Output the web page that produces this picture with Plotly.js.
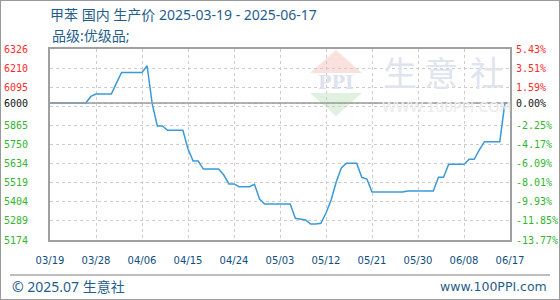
<!DOCTYPE html>
<html>
<head>
<meta charset="utf-8">
<script src="https://cdn.plot.ly/plotly-3.0.1.min.js"></script>
<style>
html,body{margin:0;padding:0;background:#fff;}
#wrap{position:relative;width:560px;height:300px;}
#chart{width:560px;height:300px;}
#frame{position:absolute;left:0;top:0;width:560px;height:300px;box-sizing:border-box;border:1px solid #9a9a9a;pointer-events:none;}
</style>
</head>
<body>
<div id="wrap"><div id="chart"></div><div id="frame"></div></div>
<script>
// ---- data ----
const startDate = '2025-03-19';
const prices = [
  6000,6000,6000,6000,6000,6000,6000,6000,
  6040,
  6054,6054,6054,6054,
  6120,
  6185,6185,6185,6185,6185,
  6225,
  5995,
  5862,5862,
  5836,5836,5836,5836,
  5723,
  5650,5650,
  5602,5602,5602,5602,
  5566,
  5512,5512,
  5495,5495,5495,
  5510,
  5421,
  5391,5391,5391,5391,5391,5391,
  5305,
  5298,
  5295,
  5270,5270,5275,
  5337,
  5415,
  5524,
  5608,
  5637,5637,5637,
  5552,
  5542,
  5463,5463,5463,5463,5463,5463,5463,
  5470,5470,5470,5470,5470,5470,
  5552,5552,
  5631,5631,5631,5631,
  5661,5661,
  5717,
  5767,5767,5767,5767,
  6000,6000
];
const baseValue = 6000;
const yTickVals = [5174,5289.2,5404.4,5519.6,5634.8,5750,5865.2,5980.4,6000,6095.6,6210.8,6326];
const yTickLeft = ['5174','5289','5404','5519','5634','5750','5865','','6000','6095','6210','6326'];
const yTickRight = ['-13.77%','-11.85%','-9.93%','-8.01%','-6.09%','-4.17%','-2.25%','','0.00%','1.59%','3.51%','5.43%'];
const xTickVals = ['2025-03-19','2025-03-28','2025-04-06','2025-04-15','2025-04-24','2025-05-03','2025-05-12','2025-05-21','2025-05-30','2025-06-08','2025-06-17'];
const xTickText = ['03/19','03/28','04/06','04/15','04/24','05/03','05/12','05/21','05/30','06/08','06/17'];
const titleText = '甲苯 国内 生产价 2025-03-19 - 2025-06-17';
const subTitle = '品级:优级品;';

// dates (one per day)
const dates = [];
{
  const d0 = new Date(startDate + 'T00:00:00Z');
  for (let i = 0; i < prices.length; i++) {
    const d = new Date(d0.getTime() + i * 86400000);
    dates.push(d.toISOString().slice(0,10));
  }
}

function colorTick(txt, val){
  if (txt === '') return '';
  const c = val > baseValue + 0.5 ? '#ff2a2a' : (val < baseValue - 0.5 ? '#33b52e' : '#111111');
  return '<span style="color:' + c + '">' + txt + '</span>';
}

// layout helpers (pixels -> paper)
const M = {l:50, r:50, t:49, b:60};
const PW = 560 - M.l - M.r, PH = 300 - M.t - M.b;
const px = x => (x - M.l) / PW;
const py = y => (300 - M.b - y) / PH;

const yRange = [yTickVals[0], yTickVals[yTickVals.length-1]];
const monoFont = {family:'DejaVu Sans Mono, monospace', size:10, color:'#111'};
const cjk = 'Noto Sans, Noto Sans CJK SC, sans-serif';
const blue = '#1f5e8c';

const traces = [
  {x:dates, y:prices, type:'scatter', mode:'lines', line:{color:'#3a9ad9', width:1.5}, hoverinfo:'skip', showlegend:false},
  {x:dates, y:prices, type:'scatter', mode:'lines', line:{color:'rgba(0,0,0,0)', width:0}, yaxis:'y2', hoverinfo:'skip', showlegend:false}
];

const layout = {
  width:560, height:300,
  margin:{l:M.l, r:M.r, t:M.t, b:M.b, pad:0},
  paper_bgcolor:'#fff', plot_bgcolor:'#fff',
  showlegend:false,
  title:{text:titleText, x:px(50), xref:'paper', xanchor:'left', y:1-15/300, yanchor:'middle',
         font:{family:cjk, size:14, color:blue}},
  xaxis:{type:'date', range:[dates[0], dates[dates.length-1]],
    tickmode:'array', tickvals:xTickVals, ticktext:xTickText,
    ticks:'', ticklabelstandoff:10,
    tickfont:{family:'DejaVu Sans, sans-serif', size:10, color:'#0f4f80'},
    showgrid:true, gridcolor:'#cccccc', griddash:'3px,3px', gridwidth:1,
    showline:true, linecolor:'#a0a0a0', linewidth:2, mirror:true, zeroline:false, fixedrange:true},
  yaxis:{range:yRange, tickmode:'array', tickvals:yTickVals,
    ticktext:yTickLeft.map((t,i)=>colorTick(t, yTickVals[i])),
    ticks:'outside', ticklen:18, tickcolor:'rgba(0,0,0,0)', tickfont:monoFont,
    showgrid:true, gridcolor:'#cccccc', griddash:'3px,3px', gridwidth:1,
    showline:true, linecolor:'#a0a0a0', linewidth:2, mirror:true, zeroline:false, fixedrange:true},
  yaxis2:{range:yRange, overlaying:'y', side:'right', tickmode:'array', tickvals:yTickVals,
    ticktext:yTickRight.map((t,i)=>colorTick(t, yTickVals[i])),
    ticks:'', ticklabelstandoff:5, tickfont:monoFont,
    showgrid:false, zeroline:false, showline:false, fixedrange:true},
  shapes:[
    {type:'path', xref:'paper', yref:'paper', layer:'below', line:{width:0}, fillcolor:'#fbe1dd',
      path:'M'+px(310)+','+py(73)+' L'+px(336)+','+py(50)+' L'+px(362)+','+py(73)+' Z'},
    {type:'path', xref:'paper', yref:'paper', layer:'below', line:{width:0}, fillcolor:'#e0f1e0',
      path:'M'+px(310)+','+py(93)+' L'+px(362)+','+py(93)+' L'+px(336)+','+py(116)+' Z'},
    {type:'line', xref:'paper', yref:'y', x0:0, x1:1, y0:baseValue, y1:baseValue, layer:'above',
      line:{color:'#9a9a9a', width:1.5}},
    {type:'line', xref:'paper', yref:'paper', x0:px(10), x1:px(550), y0:py(275), y1:py(275),
      line:{color:'#a8a8a8', width:1.5}}
  ],
  annotations:[
    {text:subTitle, xref:'paper', yref:'paper', x:px(50), y:py(35), xanchor:'left', yanchor:'middle',
      showarrow:false, font:{family:cjk, size:14, color:blue}},
    {text:'© 2025.07 生意社', xref:'paper', yref:'paper', x:px(10), y:py(286), xanchor:'left', yanchor:'middle',
      showarrow:false, font:{family:cjk, size:14, color:blue}},
    {text:'www.100PPI.com', xref:'paper', yref:'paper', x:px(549), y:py(286), xanchor:'right', yanchor:'middle',
      showarrow:false, font:{family:'DejaVu Sans, sans-serif', size:12.5, color:blue}},
    {text:'<b>PPI</b>', xref:'paper', yref:'paper', x:px(336), y:py(82), xanchor:'center', yanchor:'middle',
      showarrow:false, font:{family:'DejaVu Serif, serif', size:18, color:'#dde3ee'}},
    {text:'生', xref:'paper', yref:'paper', x:px(400), y:py(71), xanchor:'center', yanchor:'middle',
      showarrow:false, font:{family:'Noto Sans CJK SC, sans-serif', size:34, color:'#dfe4ee'}},
    {text:'意', xref:'paper', yref:'paper', x:px(441), y:py(71), xanchor:'center', yanchor:'middle',
      showarrow:false, font:{family:'Noto Sans CJK SC, sans-serif', size:34, color:'#dfe4ee'}},
    {text:'社', xref:'paper', yref:'paper', x:px(487), y:py(71), xanchor:'center', yanchor:'middle',
      showarrow:false, font:{family:'Noto Sans CJK SC, sans-serif', size:34, color:'#dfe4ee'}},
    {text:'WWW.100PPI.COM', xref:'paper', yref:'paper', x:px(446), y:py(107), xanchor:'center', yanchor:'middle',
      showarrow:false, font:{family:'DejaVu Sans, sans-serif', size:14, color:'#ebebeb'}}
  ]
};

Plotly.newPlot('chart', traces, layout, {displayModeBar:false, staticPlot:true});
</script>
</body>
</html>
